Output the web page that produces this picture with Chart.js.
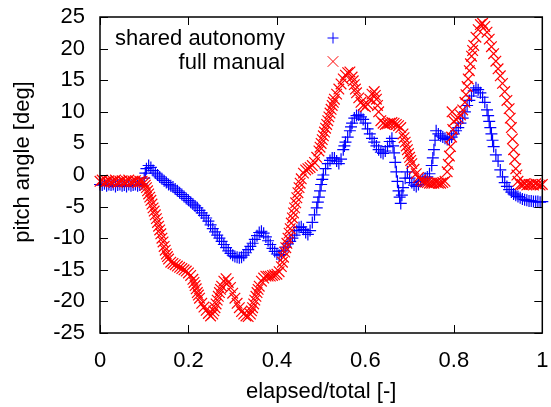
<!DOCTYPE html>
<html><head><meta charset="utf-8">
<script src="https://cdn.jsdelivr.net/npm/chart.js@4.4.1/dist/chart.umd.min.js"></script>
<style>html,body{margin:0;padding:0;background:#fff}#wrap{width:551px;height:407px}</style>
</head><body><div id="wrap"><canvas id="c" width="551" height="407"></canvas></div>
<script>
// ---- data ----
const elapsed = [
0,0.005,0.01,0.015,0.02,0.025,0.03,0.035,0.04,0.045,
0.05,0.055,0.06,0.065,0.07,0.075,0.08,0.085,0.09,0.095,
0.1,0.105,0.11,0.115,0.12,0.125,0.13,0.135,0.14,0.145,
0.15,0.155,0.16,0.165,0.17,0.175,0.18,0.185,0.19,0.195,
0.2,0.205,0.21,0.215,0.22,0.225,0.23,0.235,0.24,0.245,
0.25,0.255,0.26,0.265,0.27,0.275,0.28,0.285,0.29,0.295,
0.3,0.305,0.31,0.315,0.32,0.325,0.33,0.335,0.34,0.345,
0.35,0.355,0.36,0.365,0.37,0.375,0.38,0.385,0.39,0.395,
0.4,0.405,0.41,0.415,0.42,0.425,0.43,0.435,0.44,0.445,
0.45,0.455,0.46,0.465,0.47,0.475,0.48,0.485,0.49,0.495,
0.5,0.505,0.51,0.515,0.52,0.525,0.53,0.535,0.54,0.545,
0.55,0.555,0.56,0.565,0.57,0.575,0.58,0.585,0.59,0.595,
0.6,0.605,0.61,0.615,0.62,0.625,0.63,0.635,0.64,0.645,
0.65,0.655,0.66,0.665,0.67,0.675,0.68,0.685,0.69,0.695,
0.7,0.705,0.71,0.715,0.72,0.725,0.73,0.735,0.74,0.745,
0.75,0.755,0.76,0.765,0.77,0.775,0.78,0.785,0.79,0.795,
0.8,0.805,0.81,0.815,0.82,0.825,0.83,0.835,0.84,0.845,
0.85,0.855,0.86,0.865,0.87,0.875,0.88,0.885,0.89,0.895,
0.9,0.905,0.91,0.915,0.92,0.925,0.93,0.935,0.94,0.945,
0.95,0.955,0.96,0.965,0.97,0.975,0.98,0.985,0.99,0.995,
1];

const sharedPitch = [
-1.5,-1.6,-1.4,-1.7,-1.5,-1.6,-1.5,-1.8,-1.6,-1.5,
-1.7,-1.6,-1.8,-1.5,-1.7,-1.6,-1.5,-1.7,-1.6,-1.4,
-0.5,1.0,1.5,1.2,0.7,0.3,0.0,-0.3,-0.6,-0.9,
-1.2,-1.5,-1.7,-1.9,-2.2,-2.5,-2.8,-3.1,-3.4,-3.7,
-4.0,-4.3,-4.6,-4.9,-5.2,-5.6,-6.0,-6.4,-6.8,-7.3,
-7.9,-8.5,-9.0,-9.5,-10.0,-10.5,-11.0,-11.5,-12.0,-12.4,
-12.7,-12.9,-13.0,-13.1,-13.0,-12.7,-12.3,-11.8,-11.3,-10.8,
-10.2,-9.6,-9.1,-8.9,-9.2,-9.8,-10.4,-11.0,-11.6,-12.1,
-12.5,-12.7,-12.6,-12.0,-11.4,-10.9,-10.5,-10.0,-9.5,-8.8,
-8.3,-8.2,-8.6,-9.1,-9.4,-8.8,-7.5,-6.3,-5.2,-3.5,
-1.5,0.0,1.0,1.8,2.3,2.7,2.7,2.2,1.8,2.5,
4.0,5.2,6.0,7.0,8.2,9.0,9.4,9.5,9.2,8.8,
8.2,7.3,6.5,5.8,5.2,4.6,4.0,3.6,3.4,3.8,
4.5,5.3,5.8,3.5,0.5,-2.5,-4.5,-2.0,-0.5,0.5,
-0.5,-1.2,-1.6,-1.8,-1.5,-1.0,-0.8,-0.5,-0.3,0.2,
1.5,4.0,7.0,6.5,6.2,6.0,5.8,5.6,5.7,6.0,
6.5,7.0,7.5,8.2,9.0,10.0,11.0,11.8,12.5,13.3,
13.8,13.5,13.0,12.3,11.5,10.3,8.5,6.5,4.5,3.2,
2.2,0.8,-0.3,-1.2,-1.8,-2.3,-2.7,-3.0,-3.2,-3.4,
-3.6,-3.8,-3.9,-4.0,-4.1,-4.1,-4.2,-4.2,-4.2,-4.3,
-4.2];

const manualPitch = [
-1.0,-0.8,-1.2,-1.0,-0.9,-1.1,-1.0,-0.8,-1.2,-1.0,
-0.9,-1.1,-1.0,-0.8,-1.1,-1.0,-0.9,-1.2,-1.0,-1.0,
-1.2,-2.0,-3.0,-4.0,-5.2,-6.3,-7.5,-8.7,-10.0,-11.3,
-12.5,-13.3,-13.8,-14.0,-14.2,-14.4,-14.6,-14.8,-15.0,-15.2,
-15.5,-15.9,-16.5,-17.5,-18.6,-19.5,-20.3,-20.9,-21.4,-21.9,
-22.3,-22.0,-21.0,-19.8,-18.6,-17.6,-16.8,-16.4,-17.0,-17.8,
-18.7,-19.5,-20.3,-21.0,-21.6,-22.0,-22.3,-22.4,-22.0,-21.0,
-19.8,-18.6,-17.6,-16.8,-16.3,-16.0,-16.0,-16.0,-15.9,-15.8,
-15.7,-15.3,-14.5,-13.0,-11.5,-10.0,-8.5,-6.8,-5.2,-3.6,
-2.0,-0.6,0.3,0.8,1.0,1.2,1.5,2.0,2.8,3.8,
5.0,6.2,7.4,8.6,9.8,11.0,12.0,12.8,13.6,14.4,
15.2,15.8,16.2,16.3,15.5,14.3,13.0,12.2,11.5,11.0,
10.8,11.2,12.0,12.8,13.2,12.0,10.0,8.6,8.2,8.0,
8.1,8.2,8.3,8.2,8.0,7.8,7.5,6.5,5.2,4.0,
2.8,1.8,0.9,0.2,-0.4,-0.8,-1.0,-1.1,-1.2,-1.3,
-1.3,-1.3,-1.2,-1.3,-1.3,-1.2,-1.0,0.5,3.0,6.0,
8.5,8.8,9.0,9.5,10.3,11.5,14.0,16.5,18.8,20.5,
21.8,23.0,23.8,24.0,23.5,22.6,21.5,20.3,19.2,18.0,
16.8,15.7,14.5,13.2,11.8,10.5,7.5,4.0,1.0,-1.0,
-1.5,-1.5,-1.4,-1.6,-1.5,-1.5,-1.6,-1.4,-1.5,-1.6,
-1.5];

// extra samples read on the steep stretches
const sharedExtraT = [0.1025,0.4925,0.4975,0.5025,0.5525,0.5675,0.6625,0.6675,0.6725,0.6775,0.6825,0.7525,0.7575,0.8775,0.8825,0.8875];
const sharedExtraV = [0.3,-4.3,-2.5,-0.7,4.6,7.6,4.6,2.0,-1.0,-3.5,-3.2,2.7,5.5,9.4,7.5,5.5];
const manualExtraT = [0.1025,0.1075,0.1125,0.1175,0.1225,0.1275,0.1325,0.1375,0.1425,0.1475,0.1525,
  0.2125,0.2175,0.2225,0.2575,0.2625,0.2675,0.2725,0.3425,0.3475,0.3525,0.3575,
  0.4125,0.4175,0.4225,0.4275,0.4325,0.4375,0.4425,0.4475,0.4525,
  0.4975,0.5025,0.5075,0.5125,0.5175,0.5225,0.5275,0.5725,0.5775,0.6225,0.6275,
  0.6875,0.6925,0.6975,0.7025,0.7875,0.7925,0.796,0.7975,0.8275,0.8325,0.8375,0.8425,
  0.9275,0.9325,0.9375,0.9425];
const manualExtraV = [-1.6,-2.5,-3.5,-4.6,-5.7,-6.9,-8.1,-9.3,-10.6,-11.9,-12.9,
  -17.0,-18.0,-19.0,-21.5,-20.4,-19.2,-18.1,-21.5,-20.4,-19.2,-18.1,
  -13.8,-12.2,-10.8,-9.2,-7.6,-6.0,-4.4,-2.8,-1.3,
  4.4,5.6,6.8,8.0,9.2,10.4,11.5,14.9,13.6,12.6,11.0,
  5.9,4.6,3.4,2.3,1.7,4.5,10.0,7.2,12.7,15.2,17.6,19.7,
  9.0,5.7,2.5,0.0];

const seriesLabels = ['shared autonomy', 'full manual'];
const xTickLabels = ['0', '0.2', '0.4', '0.6', '0.8', '1'];
const xTitle = 'elapsed/total [-]';
const yTitle = 'pitch angle [deg]';

// ---- chart ----
const FONT = "'Liberation Sans', Arial, sans-serif";
const FS = 22;
const toPts = (xs, ys, ex, ey) => xs.map((x, i) => ({x: x, y: ys[i]}))
  .concat(ex.map((x, i) => ({x: x, y: ey[i]})))
  .sort((a, b) => a.x - b.x);

const framePlugin = {
  id: 'frame',
  afterDraw(chart) {
    const {ctx, chartArea: a, scales: {x, y}} = chart;
    ctx.save();
    ctx.strokeStyle = '#000';
    ctx.lineWidth = 1;
    const L = 8;
    ctx.beginPath();
    y.ticks.forEach(t => {
      const py = Math.round(y.getPixelForValue(t.value)) + 0.5;
      ctx.moveTo(a.left, py); ctx.lineTo(a.left + L, py);
      ctx.moveTo(a.right, py); ctx.lineTo(a.right - L, py);
    });
    x.ticks.forEach(t => {
      const px = Math.round(x.getPixelForValue(t.value)) + 0.5;
      ctx.moveTo(px, a.bottom); ctx.lineTo(px, a.bottom - L);
      ctx.moveTo(px, a.top); ctx.lineTo(px, a.top + L);
    });
    ctx.stroke();
    ctx.lineWidth = 1.5;
    ctx.strokeRect(a.left, a.top, a.right - a.left, a.bottom - a.top);
    ctx.font = FS + 'px ' + FONT;
    ctx.fillStyle = '#000';
    // y axis title, rotated
    ctx.save();
    ctx.translate(29, 162);
    ctx.rotate(-Math.PI / 2);
    ctx.textAlign = 'center';
    ctx.textBaseline = 'alphabetic';
    ctx.fillText(yTitle, 0, 0);
    ctx.restore();
    // legend (inside plot, text right-aligned, sample to its right)
    ctx.textAlign = 'right';
    ctx.textBaseline = 'alphabetic';
    const items = [chart.data.datasets[1], chart.data.datasets[0]];
    items.forEach((ds, i) => {
      const base = a.top + 28 + i * 23.5;
      ctx.fillText(ds.label, a.left + 185, base);
      ctx.strokeStyle = ds.borderColor;
      ctx.lineWidth = 1;
      Chart.helpers.drawPoint(ctx, {pointStyle: ds.pointStyle, radius: ds.pointStyle === 'cross' ? 5.5 : 7.5, rotation: 0, borderWidth: 1}, a.left + 233, base - 7);
    });
    ctx.restore();
  }
};

new Chart(document.getElementById('c'), {
  type: 'scatter',
  data: {
    datasets: [
      {label: seriesLabels[1], data: toPts(elapsed, manualPitch, manualExtraT, manualExtraV), pointStyle: 'crossRot', pointRadius: 7.5,
       borderColor: '#ff0000', backgroundColor: '#ff0000', pointBorderColor: '#ff0000', pointBackgroundColor: '#ff0000',
       pointHoverBorderColor: '#ff0000', borderWidth: 1.2, pointBorderWidth: 1.2, order: 0, clip: false},
      {label: seriesLabels[0], data: toPts(elapsed, sharedPitch, sharedExtraT, sharedExtraV), pointStyle: 'cross', pointRadius: 6,
       borderColor: '#0000ff', backgroundColor: '#0000ff', pointBorderColor: '#0000ff', pointBackgroundColor: '#0000ff',
       pointHoverBorderColor: '#0000ff', borderWidth: 1.2, pointBorderWidth: 1.2, order: 1, clip: false}
    ]
  },
  options: {
    responsive: false, animation: false, events: [],
    layout: {padding: {left: 0, right: 6, top: 17, bottom: 0}},
    plugins: {legend: {display: false}, tooltip: {enabled: false}},
    scales: {
      x: {
        type: 'linear', min: 0, max: 1,
        ticks: {stepSize: 0.2, color: '#000', font: {family: FONT, size: FS}, padding: 15, maxRotation: 0,
                callback: (v, i) => xTickLabels[i]},
        grid: {display: false, drawTicks: false}, border: {display: false},
        title: {display: true, text: xTitle, color: '#000', font: {family: FONT, size: FS}, padding: {top: 0, bottom: 2}},
        afterFit(s) { s.height = 74; s.paddingLeft = 0; s.paddingRight = 0; }
      },
      y: {
        type: 'linear', min: -25, max: 25,
        ticks: {stepSize: 5, color: '#000', font: {family: FONT, size: FS}, padding: 15},
        grid: {display: false, drawTicks: false}, border: {display: false},
        title: {display: false},
        afterFit(s) { s.width = 100; s.paddingTop = 0; s.paddingBottom = 0; }
      }
    }
  },
  plugins: [framePlugin]
});
</script>
</body></html>
